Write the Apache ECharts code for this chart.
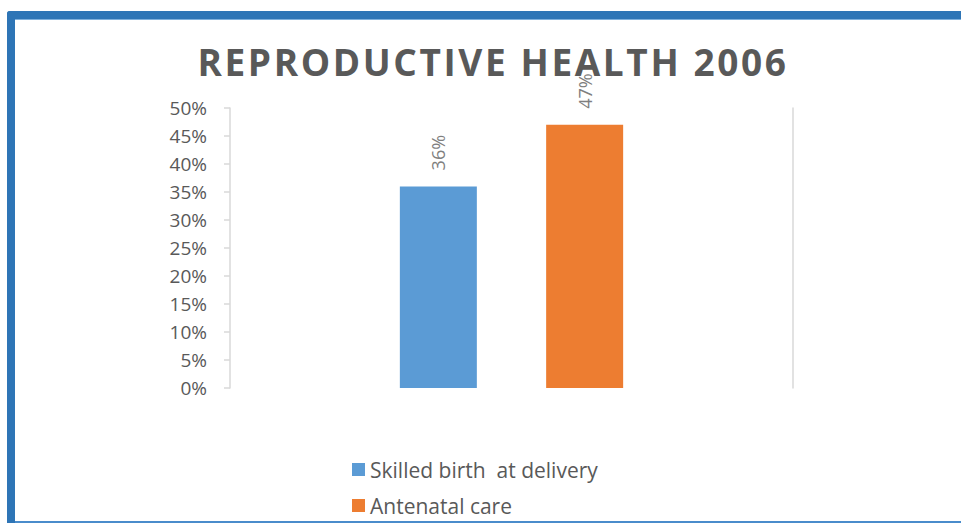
<!DOCTYPE html>
<html>
<head>
<meta charset="utf-8">
<script src="https://cdn.jsdelivr.net/npm/echarts@6/dist/echarts.min.js"></script>
<style>
  html, body { margin: 0; padding: 0; background: #fff; }
  #chart { width: 961px; height: 523px; }
</style>
</head>
<body>
<div id="chart"></div>
<script>
// Reproductive health indicators, 2006
const categories = [''];
const seriesNames = ['Skilled birth  at delivery', 'Antenatal care'];
const skilledBirth = [0.36];
const antenatalCare = [0.47];
const seriesColors = ['#5b9bd5', '#ed7d31'];
const titleText = 'REPRODUCTIVE HEALTH 2006';

const FONT = '"Open Sans", sans-serif';
const pct = v => Math.round(v * 100) + '%';

const chart = echarts.init(document.getElementById('chart'), null, { renderer: 'svg' });

const barLabel = {
  show: true,
  position: 'top',
  rotate: 90,
  align: 'left',
  verticalAlign: 'middle',
  distance: 16,
  color: '#7f7f7f',
  fontFamily: FONT,
  fontSize: 18,
  formatter: p => pct(p.value)
};

chart.setOption({
  animation: false,
  backgroundColor: '#ffffff',
  title: {
    text: titleText,
    left: 488,
    textAlign: 'center',
    top: 38,
    textStyle: {
      color: '#595959',
      fontFamily: FONT,
      fontWeight: 'bold',
      fontSize: 37
    }
  },
  legend: {
    orient: 'vertical',
    left: 347,
    top: 454,
    height: 90,
    itemWidth: 13,
    itemHeight: 13,
    itemGap: 15,
    icon: 'rect',
    textStyle: { color: '#595959', fontFamily: FONT, fontSize: 21 },
    data: seriesNames
  },
  grid: { left: 230, right: 168, top: 108, bottom: 135 },
  xAxis: {
    type: 'category',
    data: categories,
    axisLine: { show: false },
    axisTick: { show: false },
    axisLabel: { show: false }
  },
  yAxis: [
    {
      type: 'value',
      min: 0,
      max: 0.5,
      interval: 0.05,
      axisLine: { show: true, lineStyle: { color: '#d9d9d9', width: 1.5 } },
      axisTick: { show: true, length: 6, lineStyle: { color: '#d9d9d9', width: 1.5 } },
      splitLine: { show: false },
      axisLabel: {
        margin: 23,
        color: '#595959',
        fontFamily: FONT,
        fontSize: 19,
        formatter: v => pct(v)
      }
    },
    {
      type: 'value',
      position: 'right',
      min: 0,
      max: 0.5,
      interval: 0.05,
      axisLine: { show: true, lineStyle: { color: '#d9d9d9', width: 1.5 } },
      axisTick: { show: false },
      axisLabel: { show: false },
      splitLine: { show: false }
    }
  ],
  series: [
    {
      name: seriesNames[0],
      type: 'bar',
      data: skilledBirth,
      barWidth: 77,
      barGap: '90%',
      itemStyle: { color: seriesColors[0] },
      label: barLabel
    },
    {
      name: seriesNames[1],
      type: 'bar',
      data: antenatalCare,
      barWidth: 77,
      barGap: '90%',
      itemStyle: { color: seriesColors[1] },
      label: barLabel
    }
  ],
  graphic: [
    // blue frame: thick left and top edges, thin bottom edge
    { type: 'rect', shape: { x: 7, y: 11, width: 8, height: 512, r: [3, 0, 0, 0] }, style: { fill: '#2e75b6' }, silent: true },
    { type: 'rect', shape: { x: 7, y: 11, width: 954, height: 8, r: [3, 0, 0, 0] }, style: { fill: '#2e75b6' }, silent: true },
    { type: 'rect', shape: { x: 15, y: 19, width: 946, height: 1 }, style: { fill: '#7fb0dc' }, silent: true },
    { type: 'rect', shape: { x: 15, y: 521, width: 946, height: 2 }, style: { fill: '#4a8ccb' }, silent: true }
  ]
});

// widen the title's tracking
function spaceTitle() {
  document.querySelectorAll('#chart svg text').forEach(t => {
    if (t.textContent === titleText) t.style.letterSpacing = '2.6px';
  });
}
spaceTitle();
chart.on('finished', spaceTitle);
</script>
</body>
</html>
